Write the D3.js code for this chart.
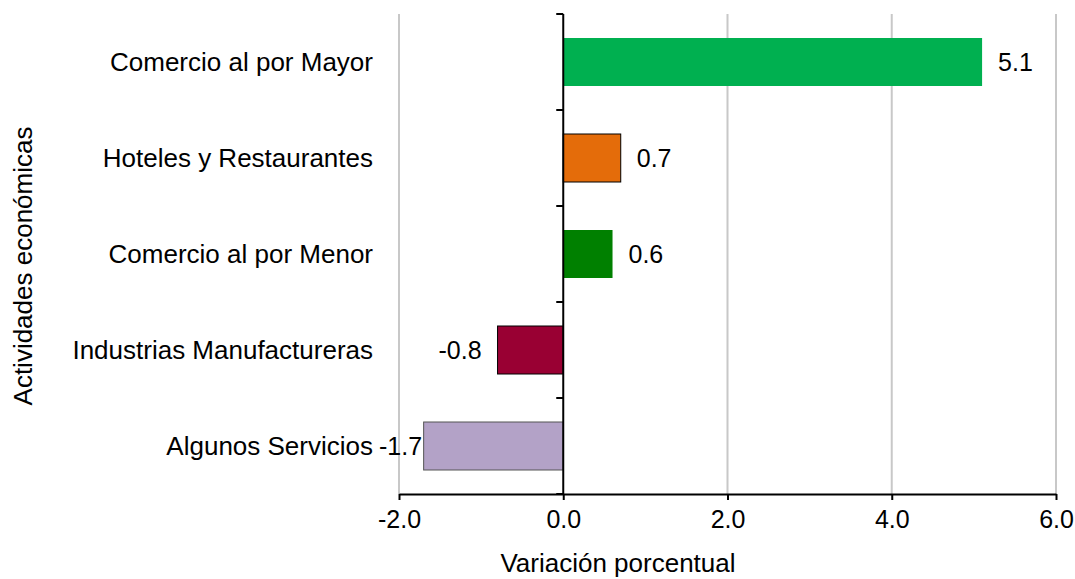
<!DOCTYPE html>
<html>
<head>
<meta charset="utf-8">
<script src="https://cdn.jsdelivr.net/npm/d3@7"></script>
<style>
  body { margin: 0; background: #fff; }
  text { font-family: "Liberation Sans", Arial, sans-serif; fill: #000; }
</style>
</head>
<body>
<div id="chart"></div>
<script>
var width = 1075;
var height = 579;

// datos
var categories = [
    "Comercio al por Mayor",
    "Hoteles y Restaurantes",
    "Comercio al por Menor",
    "Industrias Manufactureras",
    "Algunos Servicios"
];
var values = [5.1, 0.7, 0.6, -0.8, -1.7];
var barColors = ["#00b050", "#e46c0a", "#008000", "#990033", "#b3a2c7"];
var barStrokes = ["none", "#000", "none", "#000", "#555"];
var xTicks = [-2, 0, 2, 4, 6];

var margin = { top: 14, right: 19, bottom: 85, left: 399 };

var fmt = function(d) { return d3.format(".1f")(d).replace("\u2212", "-"); };

var svg = d3.select("#chart").append("svg")
    .attr("width", width)
    .attr("height", height);

var x = d3.scaleLinear()
    .domain([-2, 6])
    .range([margin.left, width - margin.right]);

var y = d3.scaleBand()
    .domain(categories)
    .range([margin.top, height - margin.bottom])
    .paddingInner(0.5)
    .paddingOuter(0.25);

var plotBottom = height - margin.bottom;

// lineas de cuadricula
svg.append("g")
    .selectAll("line")
    .data(xTicks.filter(d => d !== 0))
    .enter().append("line")
    .attr("x1", d => x(d))
    .attr("x2", d => x(d))
    .attr("y1", margin.top)
    .attr("y2", plotBottom)
    .attr("stroke", "#c8c8c8")
    .attr("stroke-width", 2);

// barras
svg.append("g")
    .selectAll("rect")
    .data(values)
    .enter().append("rect")
    .attr("x", d => x(Math.min(0, d)))
    .attr("width", d => Math.abs(x(d) - x(0)))
    .attr("y", (d, i) => y(categories[i]))
    .attr("height", y.bandwidth())
    .attr("fill", (d, i) => barColors[i])
    .attr("stroke", (d, i) => barStrokes[i])
    .attr("stroke-width", 1);

// eje x
var xAxis = svg.append("g")
    .attr("transform", "translate(0," + plotBottom + ")")
    .call(d3.axisBottom(x).tickValues(xTicks).tickFormat(fmt).tickSize(6).tickSizeOuter(0).tickPadding(10));
xAxis.select(".domain").attr("stroke", "#000").attr("stroke-width", 2);
xAxis.selectAll(".tick line").attr("stroke", "#000").attr("stroke-width", 2);
xAxis.selectAll("text").style("font-size", "25px").attr("font-family", null);

// eje vertical en cero con marcas entre categorias
var bandEdges = d3.range(categories.length + 1).map(i => margin.top + i * (plotBottom - margin.top) / categories.length);
svg.append("line")
    .attr("x1", x(0)).attr("x2", x(0))
    .attr("y1", margin.top).attr("y2", plotBottom)
    .attr("stroke", "#000").attr("stroke-width", 2);
svg.append("g")
    .selectAll("line")
    .data(bandEdges)
    .enter().append("line")
    .attr("x1", x(0) - 7).attr("x2", x(0))
    .attr("y1", d => d).attr("y2", d => d)
    .attr("stroke", "#000").attr("stroke-width", 2);

// etiquetas de categorias
svg.append("g")
    .selectAll("text")
    .data(categories)
    .enter().append("text")
    .attr("x", 373)
    .attr("y", d => y(d) + y.bandwidth() / 2)
    .attr("dy", "0.36em")
    .attr("text-anchor", "end")
    .style("font-size", "26px")
    .text(d => d);

// etiquetas de valores
svg.append("g")
    .selectAll("text")
    .data(values)
    .enter().append("text")
    .attr("y", (d, i) => y(categories[i]) + y.bandwidth() / 2)
    .attr("dy", "0.36em")
    .style("font-size", "25px")
    .text(fmt)
    .each(function(d) {
        var t = d3.select(this);
        if (d >= 0) {
            t.attr("x", x(d) + 16).attr("text-anchor", "start");
        } else {
            var w = this.getComputedTextLength();
            t.attr("x", Math.max(x(d) - 16, 379 + w)).attr("text-anchor", "end");
        }
    });

// titulos de ejes
svg.append("text")
    .attr("x", 618)
    .attr("y", 572)
    .attr("text-anchor", "middle")
    .style("font-size", "26px")
    .text("Variación porcentual");

svg.append("text")
    .attr("transform", "translate(32," + 266 + ") rotate(-90)")
    .attr("text-anchor", "middle")
    .style("font-size", "26px")
    .text("Actividades económicas");
</script>
</body>
</html>
